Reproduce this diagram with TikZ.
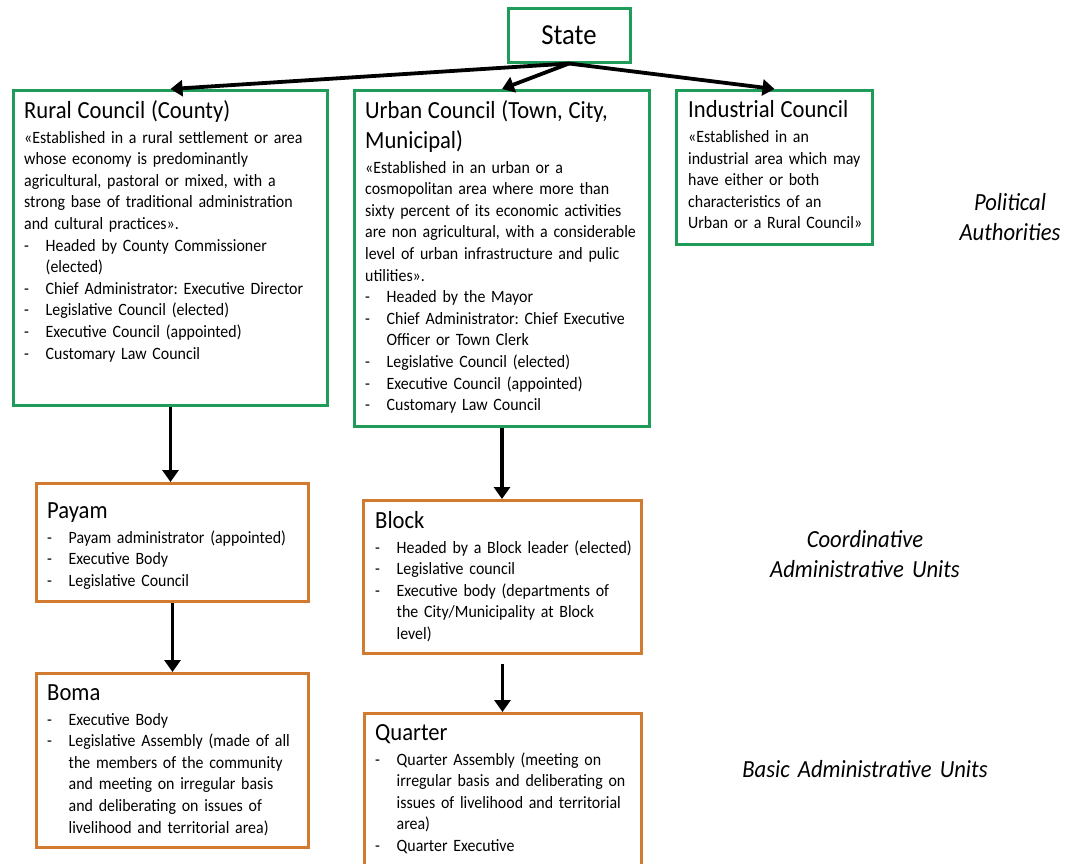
\documentclass[tikz,border=0pt]{standalone}
\usepackage{fontspec}
\setmainfont{Carlito}[FakeStretch=0.92]
\usetikzlibrary{arrows.meta}
\definecolor{boxgreen}{RGB}{32,156,90}
\definecolor{boxorange}{RGB}{210,122,48}
\newcommand\boxtitle[1]{{\fontsize{24.6}{30}\selectfont #1\par}\vspace{3.4pt}}
\newcommand\boxitem[1]{\par\noindent\hangindent=21.5pt\hangafter=1\makebox[21.5pt][l]{-}#1\par}
\tikzset{
  frame/.style={draw, rectangle, line width=3pt, inner sep=0pt, anchor=north west},
  gframe/.style={frame, draw=boxgreen},
  oframe/.style={frame, draw=boxorange},
  boxtext/.style={anchor=base west, inner sep=0pt, text width=420pt, align=left,
    font=\fontsize{17.3}{21.6}\selectfont\frenchspacing},
  sidelabel/.style={anchor=base, inner sep=0pt, text width=300pt, align=center,
    font=\fontsize{24.6}{30.5}\selectfont\itshape},
  conn/.style={line width=3.8pt, -{Triangle[length=12pt,width=16pt]}},
}
\begin{document}
\begin{tikzpicture}[x=1pt,y=-1pt]
\useasboundingbox[fill=white] (0,0) rectangle (1071,863);

% boxes
\node[frame, draw=boxgreen, anchor=center, minimum width=122pt, minimum height=54pt,
  font=\fontsize{29}{34}\selectfont] (state) at (569,35) {State};
\node[gframe, minimum width=314pt, minimum height=315pt] (rural) at (12,89) {};
\node[gframe, minimum width=295pt, minimum height=336pt] (urban) at (353,89) {};
\node[gframe, minimum width=196pt, minimum height=154pt] (industrial) at (675,89) {};
\node[oframe, minimum width=272pt, minimum height=118pt] (payam) at (35,482) {};
\node[oframe, minimum width=272pt, minimum height=174pt] (boma) at (35,672) {};
\node[oframe, minimum width=278pt, minimum height=153pt] (block) at (362,499) {};
\node[oframe, minimum width=277pt, minimum height=152pt] (quarter) at (363,712) {};

% texts
\node[boxtext] (ruralT) at (24,118) {\boxtitle{Rural Council (County)}%
\noindent «Established in a rural settlement or area\newline
whose economy is predominantly\newline
agricultural, pastoral or mixed, with a\newline
strong base of traditional administration\newline
and cultural practices».\par
\boxitem{Headed by County Commissioner\newline (elected)}
\boxitem{Chief Administrator: Executive Director}
\boxitem{Legislative Council (elected)}
\boxitem{Executive Council (appointed)}
\boxitem{Customary Law Council}};

\node[boxtext] (urbanT) at (365,118) {\boxtitle{Urban Council (Town, City,\newline Municipal)}%
\noindent «Established in an urban or a\newline
cosmopolitan area where more than\newline
sixty percent of its economic activities\newline
are non agricultural, with a considerable\newline
level of urban infrastructure and pulic\newline
utilities».\par
\boxitem{Headed by the Mayor}
\boxitem{Chief Administrator: Chief Executive\newline Officer or Town Clerk}
\boxitem{Legislative Council (elected)}
\boxitem{Executive Council (appointed)}
\boxitem{Customary Law Council}};

\node[boxtext] (industrialT) at (688,117.5) {\boxtitle{Industrial Council}%
\noindent «Established in an\newline
industrial area which may\newline
have either or both\newline
characteristics of an\newline
Urban or a Rural Council»\par};

\node[boxtext] (payamT) at (47,518) {\boxtitle{Payam}%
\boxitem{Payam administrator (appointed)}
\boxitem{Executive Body}
\boxitem{Legislative Council}};

\node[boxtext] (bomaT) at (47,700) {\boxtitle{Boma}%
\boxitem{Executive Body}
\boxitem{Legislative Assembly (made of all\newline the members of the community\newline and meeting on irregular basis\newline and deliberating on issues of\newline livelihood and territorial area)}};

\node[boxtext] (blockT) at (375,528) {\boxtitle{Block}%
\boxitem{Headed by a Block leader (elected)}
\boxitem{Legislative council}
\boxitem{Executive body (departments of\newline the City/Municipality at Block\newline level)}};

\node[boxtext] (quarterT) at (375,740) {\boxtitle{Quarter}%
\boxitem{Quarter Assembly (meeting on\newline irregular basis and deliberating on\newline issues of livelihood and territorial\newline area)}
\boxitem{Quarter Executive}};

% side labels
\node[sidelabel] (political) at (1010,210) {Political\\Authorities};
\node[sidelabel] (coord) at (865,547) {Coordinative\\Administrative Units};
\node[sidelabel] (basic) at (865,777) {Basic Administrative Units};

% connectors
\draw[conn] (state.south) -- (rural.north);
\draw[conn] (state.south) -- (urban.north);
\draw[conn] (state.south) -- (industrial.north);
\draw[conn] (rural.south) -- (rural.south |- payam.north);
\draw[conn] (payam.south) -- (payam.south |- boma.north);
\draw[conn] (urban.south) -- (urban.south |- block.north);
\draw[conn, shorten <=9pt] (block.south) -- (block.south |- quarter.north);
\end{tikzpicture}
\end{document}
